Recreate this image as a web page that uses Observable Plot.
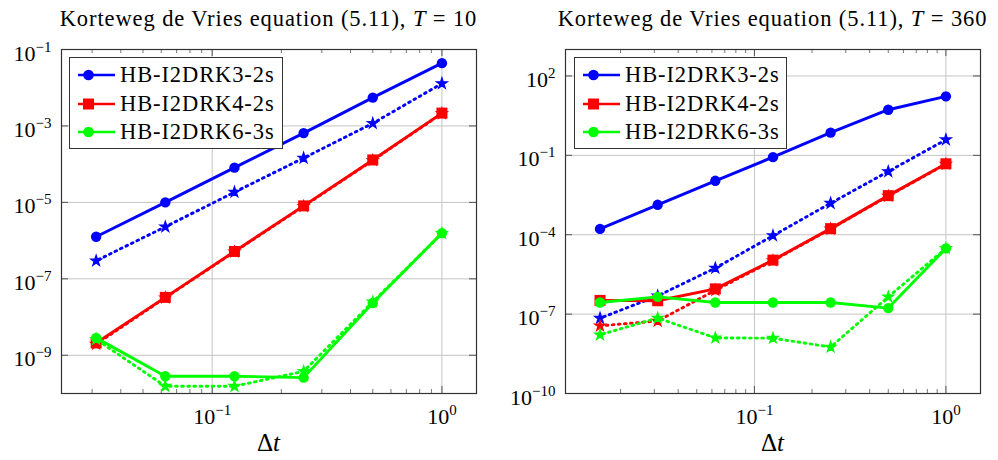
<!DOCTYPE html>
<html><head><meta charset="utf-8">
<script src="https://cdn.jsdelivr.net/npm/d3@7"></script>
<script src="https://cdn.jsdelivr.net/npm/@observablehq/plot@0.6"></script>
<style>
body{margin:0;background:#fff;width:998px;height:460px;overflow:hidden;font-family:"Liberation Serif","DejaVu Serif",serif;color:#000;}
.panel{position:absolute;top:0;width:499px;height:460px;}
.title{position:absolute;top:6px;font-size:22.5px;line-height:26px;letter-spacing:0.9px;text-align:center;white-space:nowrap;}
.xlabel{position:absolute;top:429px;font-size:25px;line-height:28px;text-align:center;}
.legend{position:absolute;background:#fff;border:1.3px solid #333;box-sizing:border-box;}
.row{position:absolute;left:0;height:28px;display:flex;align-items:center;}
.row span{font-size:22.5px;letter-spacing:0.9px;margin-left:4px;white-space:nowrap;}
.panel svg.plotsvg{position:absolute;top:30px;left:0;}
.panel svg.plotsvg text{font-family:"Liberation Serif","DejaVu Serif",serif;}
</style></head><body>
<script>
// ---------- data ----------
const dtT10  = [1, 0.5, 0.25, 0.125, 0.0625, 0.03125];
const dtT360 = [1, 0.5, 0.25, 0.125, 0.0625, 0.03125, 0.015625];
const methodNames   = ["HB-I2DRK3-2s", "HB-I2DRK4-2s", "HB-I2DRK6-3s"];
const methodColors  = ["#0000ff", "#ff0000", "#00ff00"];
const methodSymbols = ["circle", "square", "circle"];
const panelTitles = ["Korteweg de Vries equation (5.11), ", "Korteweg de Vries equation (5.11), "];
const panelT = ["10", "360"];
const xMajorTicks = [0.1, 1];
const yTicksT10  = [1e-1, 1e-3, 1e-5, 1e-7, 1e-9];
const yTicksT360 = [1e2, 1e-1, 1e-4, 1e-7, 1e-10];
const xMinorT10  = [0.03,0.04,0.05,0.06,0.07,0.08,0.09,0.2,0.3,0.4,0.5,0.6,0.7,0.8,0.9];
const xMinorT360 = [0.02,0.03,0.04,0.05,0.06,0.07,0.08,0.09,0.2,0.3,0.4,0.5,0.6,0.7,0.8,0.9];

// T = 10 (solid = marked line, dotted = star-marked line)
const k3SolidT10 = [4.4e-2, 5.5e-3, 6.5e-4, 8.1e-5, 1.0e-5, 1.26e-6];
const k3DotT10   = [1.29e-2, 1.17e-3, 1.45e-4, 1.85e-5, 2.3e-6, 2.97e-7];
const k4SolidT10 = [2.17e-3, 1.29e-4, 8.1e-6, 5.2e-7, 3.27e-8, 2.1e-9];
const k4DotT10   = [2.12e-3, 1.26e-4, 7.9e-6, 5.1e-7, 3.2e-8, 1.95e-9];
const k6SolidT10 = [1.57e-6, 2.33e-8, 2.6e-10, 2.83e-10, 2.83e-10, 2.85e-9];
const k6DotT10   = [1.55e-6, 2.5e-8, 3.8e-10, 1.55e-10, 1.55e-10, 2.6e-9];

// T = 360
const k3SolidT360 = [17, 5.3, 0.72, 8.55e-2, 1.09e-2, 1.35e-3, 1.66e-4];
const k3DotT360   = [0.39, 2.45e-2, 1.55e-3, 9.2e-5, 5.5e-6, 4.9e-7, 7.0e-8];
const k4SolidT360 = [4.8e-2, 3.0e-3, 1.7e-4, 1.1e-5, 9.0e-7, 3.2e-7, 3.3e-7];
const k4DotT360   = [4.7e-2, 2.9e-3, 1.65e-4, 1.05e-5, 8.0e-7, 5.5e-8, 3.6e-8];
const k6SolidT360 = [3.05e-5, 1.69e-7, 2.75e-7, 2.75e-7, 2.75e-7, 4.5e-7, 2.75e-7];
const k6DotT360   = [3.05e-5, 4.5e-7, 5.7e-9, 1.23e-8, 1.26e-8, 7.1e-8, 1.66e-8];

// ---------- drawing ----------
const W = 499, H = 430, MT = 19, MB = 67;
const fmt = d => "10^" + Math.round(Math.log10(d));

function buildPanel(cfg) {
  const innerH = H - MT - MB, innerW = W - cfg.ml - cfg.mr;
  const rows = [];
  cfg.series.forEach(s => s.values.forEach((v, i) => rows.push({dt: cfg.dts[i], err: v, m: s.m, style: s.style})));
  const tickStroke = "#555";
  const marks = [
    Plot.gridX(xMajorTicks, {stroke: "#c4c4c4", strokeOpacity: 1, strokeWidth: 1}),
    Plot.gridY(cfg.yTicks, {stroke: "#c4c4c4", strokeOpacity: 1, strokeWidth: 1}),
    Plot.ruleX(cfg.xMinor, {stroke: tickStroke, strokeWidth: 0.8, insetTop: innerH - 4}),
    Plot.ruleX(cfg.xMinor, {stroke: tickStroke, strokeWidth: 0.8, insetBottom: innerH - 4}),
    Plot.ruleX(xMajorTicks, {stroke: tickStroke, strokeWidth: 1, insetTop: innerH - 7}),
    Plot.ruleX(xMajorTicks, {stroke: tickStroke, strokeWidth: 1, insetBottom: innerH - 7}),
    Plot.ruleY(cfg.yTicks, {stroke: tickStroke, strokeWidth: 1, insetRight: innerW - 7}),
    Plot.ruleY(cfg.yTicks, {stroke: tickStroke, strokeWidth: 1, insetLeft: innerW - 7})
  ];
  cfg.series.forEach(s => {
    const data = rows.filter(r => r.m === s.m && r.style === s.style);
    const c = methodColors[s.m];
    const lineOpts = {x: "dt", y: "err", stroke: c, strokeWidth: 2.9};
    if (s.style === "dotted") lineOpts.strokeDasharray = "1.7,4.4";
    marks.push(Plot.line(data, lineOpts));
    if (s.style === "dotted") {
      marks.push(Plot.dot(data, {x: "dt", y: "err", fill: c, stroke: c, strokeWidth: 1.2, symbol: "star", r: 3.4}));
    } else {
      const sym = methodSymbols[s.m];
      marks.push(Plot.dot(data, {x: "dt", y: "err", fill: c, stroke: "none", symbol: sym, r: sym === "square" ? 6.2 : 5.2}));
    }
  });
  marks.push(Plot.frame({stroke: "#333", strokeWidth: 1.2}));
  marks.push(Plot.axisX(xMajorTicks, {tickSize: 0, tickPadding: 15, tickFormat: fmt, label: null, fontSize: 22}));
  marks.push(Plot.axisY(cfg.yTicks, {tickSize: 0, tickPadding: 10, tickFormat: fmt, label: null, fontSize: 22, dy: 4}));

  const svg = Plot.plot({
    width: W, height: H,
    marginTop: MT, marginBottom: MB, marginLeft: cfg.ml, marginRight: cfg.mr,
    x: {type: "log", domain: cfg.xDomain},
    y: {type: "log", domain: cfg.yDomain},
    style: {fontFamily: "'Liberation Serif', 'DejaVu Serif', serif", fontSize: "22px", color: "#000", background: "transparent", overflow: "visible"},
    marks
  });
  svg.classList.add("plotsvg");
  // superscript exponents
  const ns = "http://www.w3.org/2000/svg";
  svg.querySelectorAll("text").forEach(t => {
    const m = t.textContent.match(/^10\^(-?\d+)$/);
    if (!m) return;
    t.textContent = "10";
    const ts = document.createElementNS(ns, "tspan");
    ts.setAttribute("dy", "-9");
    ts.setAttribute("font-size", "15");
    ts.textContent = m[1].replace("-", "\u2212");
    t.appendChild(ts);
  });

  const panel = document.createElement("div");
  panel.className = "panel";
  panel.style.left = cfg.left + "px";
  panel.appendChild(svg);

  const title = document.createElement("div");
  title.className = "title";
  title.style.left = (cfg.ml - 60) + "px";
  title.style.width = (innerW + 120) + "px";
  title.innerHTML = cfg.title + "<i>T</i> = " + cfg.T;
  panel.appendChild(title);

  const xl = document.createElement("div");
  xl.className = "xlabel";
  xl.style.left = cfg.ml + "px";
  xl.style.width = innerW + "px";
  xl.innerHTML = "\u0394<i>t</i>";
  panel.appendChild(xl);

  const lg = document.createElement("div");
  lg.className = "legend";
  lg.style.left = cfg.legend[0] + "px";
  lg.style.top = cfg.legend[1] + "px";
  lg.style.width = cfg.legend[2] + "px";
  lg.style.height = cfg.legend[3] + "px";
  methodNames.forEach((name, i) => {
    const row = document.createElement("div");
    row.className = "row";
    row.style.top = (3 + i * 28.5) + "px";
    const c = methodColors[i];
    const mk = methodSymbols[i] === "square"
      ? `<rect x="13" y="8.5" width="11" height="11" fill="${c}"/>`
      : `<circle cx="18.5" cy="14" r="5.3" fill="${c}"/>`;
    row.innerHTML = `<svg width="46" height="28"><line x1="8" y1="14" x2="45" y2="14" stroke="${c}" stroke-width="2.6"/>${mk}</svg><span>${name}</span>`;
    lg.appendChild(row);
  });
  panel.appendChild(lg);
  document.body.appendChild(panel);
}

buildPanel({
  left: 0, ml: 61, mr: 23, dts: dtT10,
  xDomain: [Math.pow(10, -1.656), Math.pow(10, 0.1505)], yDomain: [1e-10, 1e-1],
  yTicks: yTicksT10, xMinor: xMinorT10, title: panelTitles[0], T: panelT[0],
  legend: [69, 57, 214, 92],
  series: [
    {m: 0, style: "solid", values: k3SolidT10}, {m: 0, style: "dotted", values: k3DotT10},
    {m: 1, style: "solid", values: k4SolidT10}, {m: 1, style: "dotted", values: k4DotT10},
    {m: 2, style: "solid", values: k6SolidT10}, {m: 2, style: "dotted", values: k6DotT10}
  ]
});
buildPanel({
  left: 499, ml: 66, mr: 18, dts: dtT360,
  xDomain: [Math.pow(10, -1.9865), Math.pow(10, 0.1806)], yDomain: [1e-10, 1e3],
  yTicks: yTicksT360, xMinor: xMinorT360, title: panelTitles[1], T: panelT[1],
  legend: [75, 57, 213, 92],
  series: [
    {m: 0, style: "solid", values: k3SolidT360}, {m: 0, style: "dotted", values: k3DotT360},
    {m: 1, style: "solid", values: k4SolidT360}, {m: 1, style: "dotted", values: k4DotT360},
    {m: 2, style: "solid", values: k6SolidT360}, {m: 2, style: "dotted", values: k6DotT360}
  ]
});
</script>
</body></html>
